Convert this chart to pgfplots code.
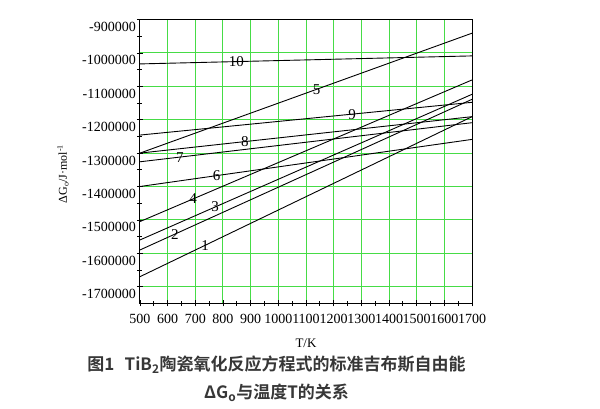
\documentclass[border=0pt]{standalone}
\usepackage{fontspec}
\setmainfont{Liberation Serif}
\newfontfamily\cjk{Noto Sans CJK SC}[BoldFont={Noto Sans CJK SC Bold}]
\usepackage{pgfplots}
\pgfplotsset{compat=1.18}
\definecolor{gridgreen}{RGB}{70,220,70}
\definecolor{captiongray}{RGB}{55,55,55}
\tikzset{lbl/.style={font=\fontsize{15}{17}\selectfont, inner sep=0pt, text=black},
  ln/.style={black, line width=0.9pt, mark=none, solid}}
\begin{document}
\begin{tikzpicture}
\path[use as bounding box] (-140pt,-105.6pt) rectangle (460pt,303.4pt);
\begin{axis}[
  at={(0,0)}, anchor=south west,
  scale only axis, width=332pt, height=283.9pt,
  xmin=500, xmax=1700, ymin=-1750000, ymax=-900000,
  scaled x ticks=false, scaled y ticks=false,
  xtick={500,600,700,800,900,1000,1100,1200,1300,1400,1500,1600,1700},
  xticklabels={500,600,700,800,900,1000,1100,1200,1300,1400,1500,1600,1700},
  ytick={-1700000,-1600000,-1500000,-1400000,-1300000,-1200000,-1100000,-1000000,-900000},
  yticklabels={-1700000,-1600000,-1500000,-1400000,-1300000,-1200000,-1100000,-1000000,-900000},
  minor x tick num=1, minor y tick num=1,
  xtick pos=bottom, ytick pos=left, tick align=center,
  major tick length=6pt, minor tick length=5pt,
  tick style={black, line width=0.7pt},
  grid=major, grid style={gridgreen, line width=1pt},
  axis line style={black, line width=1pt},
  ticklabel style={font=\fontsize{14}{16}\selectfont},
  xticklabel style={inner sep=1pt, yshift=-7pt},
  yticklabel style={anchor=north east, inner sep=1pt, yshift=-1.5pt},
  xlabel={T/K}, ylabel={ΔG\textsubscript{o}/J·mol\textsuperscript{-1}},
  xlabel style={at={(axis description cs:0.5,-0.139)}, anchor=center, font=\fontsize{13}{15}\selectfont},
  ylabel style={at={(axis description cs:-0.232,0.456)}, anchor=center, font=\fontsize{12}{14}\selectfont},
]
\addplot[ln] coordinates {(500,-1670000) (1700,-1191000)} node[lbl,pos=0.196] {1};
\addplot[ln] coordinates {(500,-1590000) (1700,-1139000)} node[lbl,pos=0.105] {2};
\addplot[ln] coordinates {(500,-1560000) (1700,-1124000)} node[lbl,pos=0.226] {3};
\addplot[ln] coordinates {(500,-1505000) (1700,-1081000)} node[lbl,pos=0.16] {4};
\addplot[ln] coordinates {(500,-1300000) (1700,-941000)} node[lbl,pos=0.532] {5};
\addplot[ln] coordinates {(500,-1400000) (1700,-1259000)} node[lbl,pos=0.231] {6};
\addplot[ln] coordinates {(500,-1326000) (1700,-1209000)} node[lbl,pos=0.12] {7};
\addplot[ln] coordinates {(500,-1300000) (1700,-1191000)} node[lbl,pos=0.316] {8};
\addplot[ln] coordinates {(500,-1246000) (1700,-1148000)} node[lbl,pos=0.639] {9};
\addplot[ln] coordinates {(500,-1033000) (1700,-1009000)} node[lbl,pos=0.29] {10};
\end{axis}
\node[font=\cjk\bfseries\fontsize{17}{20}\selectfont, text=captiongray] at (136.5pt,-61.6pt) {图1\hspace{0.6em}TiB\textsubscript{2}陶瓷氧化反应方程式的标准吉布斯自由能};
\node[font=\cjk\bfseries\fontsize{17}{20}\selectfont, text=captiongray] at (136.5pt,-89.6pt) {ΔG\textsubscript{o}与温度T的关系};
\end{tikzpicture}
\end{document}
